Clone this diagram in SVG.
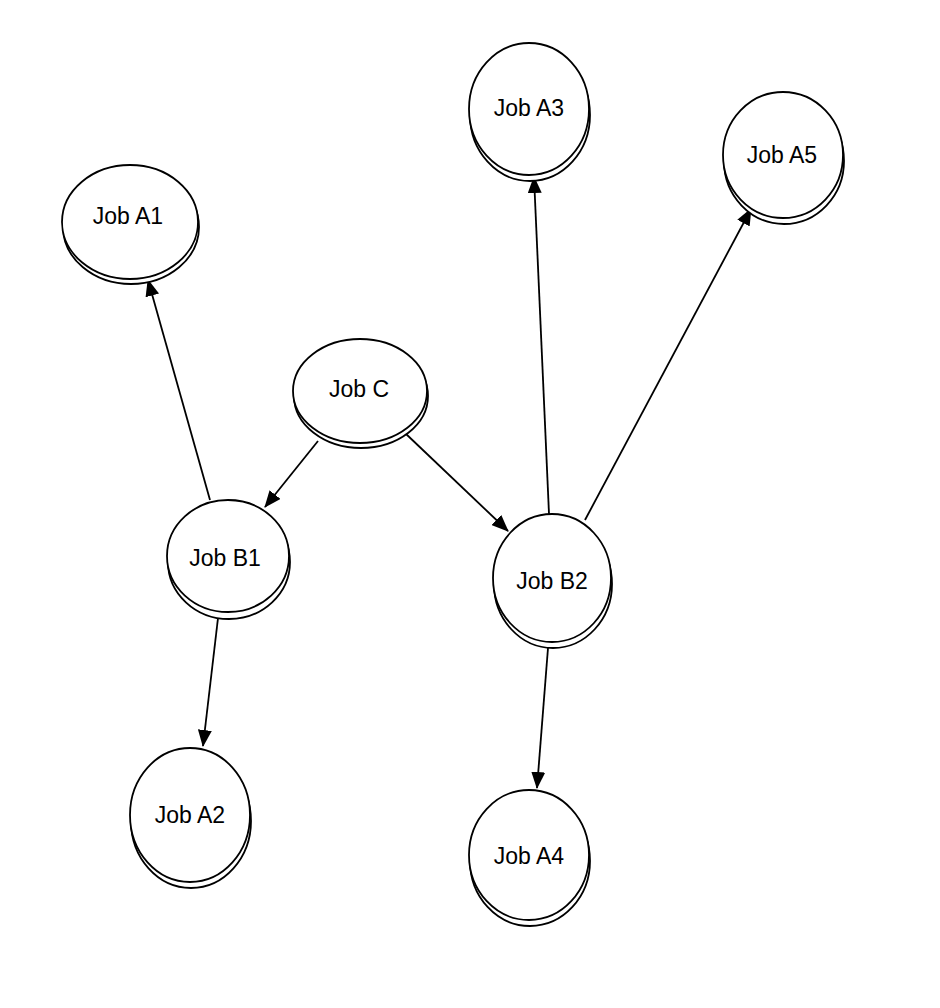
<svg xmlns="http://www.w3.org/2000/svg" width="940" height="1008" viewBox="0 0 940 1008">
<defs>
<marker id="arr" markerWidth="17" markerHeight="14" refX="16" refY="7" orient="auto" markerUnits="userSpaceOnUse">
<path d="M0,0 L17,7 L0,14 Z" fill="#000"/>
</marker>
</defs>
<style>
.sh{fill:#fff;stroke:#000;stroke-width:1.8}
.mn{fill:#fff;stroke:#000;stroke-width:1.8}
.lb{font-family:"Liberation Sans",Arial,sans-serif;font-size:23px;fill:#000;text-anchor:middle}
.ed{stroke:#000;stroke-width:1.8;fill:none;marker-end:url(#arr)}
</style>
<rect width="940" height="1008" fill="#fff"/>
<g id="connectors">
<line class="ed" x1="210" y1="500" x2="148" y2="280"/>
<line class="ed" x1="318" y1="441" x2="265" y2="507"/>
<line class="ed" x1="405" y1="433" x2="508" y2="531"/>
<line class="ed" x1="218" y1="618" x2="203" y2="746"/>
<line class="ed" x1="549" y1="514" x2="534" y2="177"/>
<line class="ed" x1="585" y1="520" x2="751" y2="209"/>
<line class="ed" x1="548" y1="648" x2="537" y2="788"/>
</g>
<g id="jobA1">
<ellipse class="sh" cx="131" cy="227" rx="68" ry="57"/>
<ellipse class="mn" cx="130" cy="222" rx="68" ry="57"/>
<text class="lb" x="128" y="224">Job A1</text>
</g>
<g id="jobC">
<ellipse class="sh" cx="361" cy="396" rx="67" ry="52"/>
<ellipse class="mn" cx="360" cy="391" rx="67" ry="52"/>
<text class="lb" x="359" y="397">Job C</text>
</g>
<g id="jobB1">
<ellipse class="sh" cx="229" cy="562" rx="61" ry="57"/>
<ellipse class="mn" cx="228" cy="556" rx="61" ry="56"/>
<text class="lb" x="225" y="566">Job B1</text>
</g>
<g id="jobB2">
<ellipse class="sh" cx="553" cy="584" rx="59" ry="64"/>
<ellipse class="mn" cx="552" cy="578" rx="59" ry="64"/>
<text class="lb" x="552" y="589">Job B2</text>
</g>
<g id="jobA2">
<ellipse class="sh" cx="191" cy="821" rx="60" ry="67"/>
<ellipse class="mn" cx="190" cy="815" rx="60" ry="67"/>
<text class="lb" x="190" y="823">Job A2</text>
</g>
<g id="jobA3">
<ellipse class="sh" cx="530" cy="115" rx="60" ry="66"/>
<ellipse class="mn" cx="529" cy="109" rx="60" ry="66"/>
<text class="lb" x="529" y="116">Job A3</text>
</g>
<g id="jobA5">
<ellipse class="sh" cx="784" cy="161" rx="60" ry="63"/>
<ellipse class="mn" cx="783" cy="155" rx="60" ry="63"/>
<text class="lb" x="782" y="163">Job A5</text>
</g>
<g id="jobA4">
<ellipse class="sh" cx="530" cy="861" rx="60" ry="65"/>
<ellipse class="mn" cx="529" cy="855" rx="60" ry="65"/>
<text class="lb" x="529" y="864">Job A4</text>
</g>
</svg>
